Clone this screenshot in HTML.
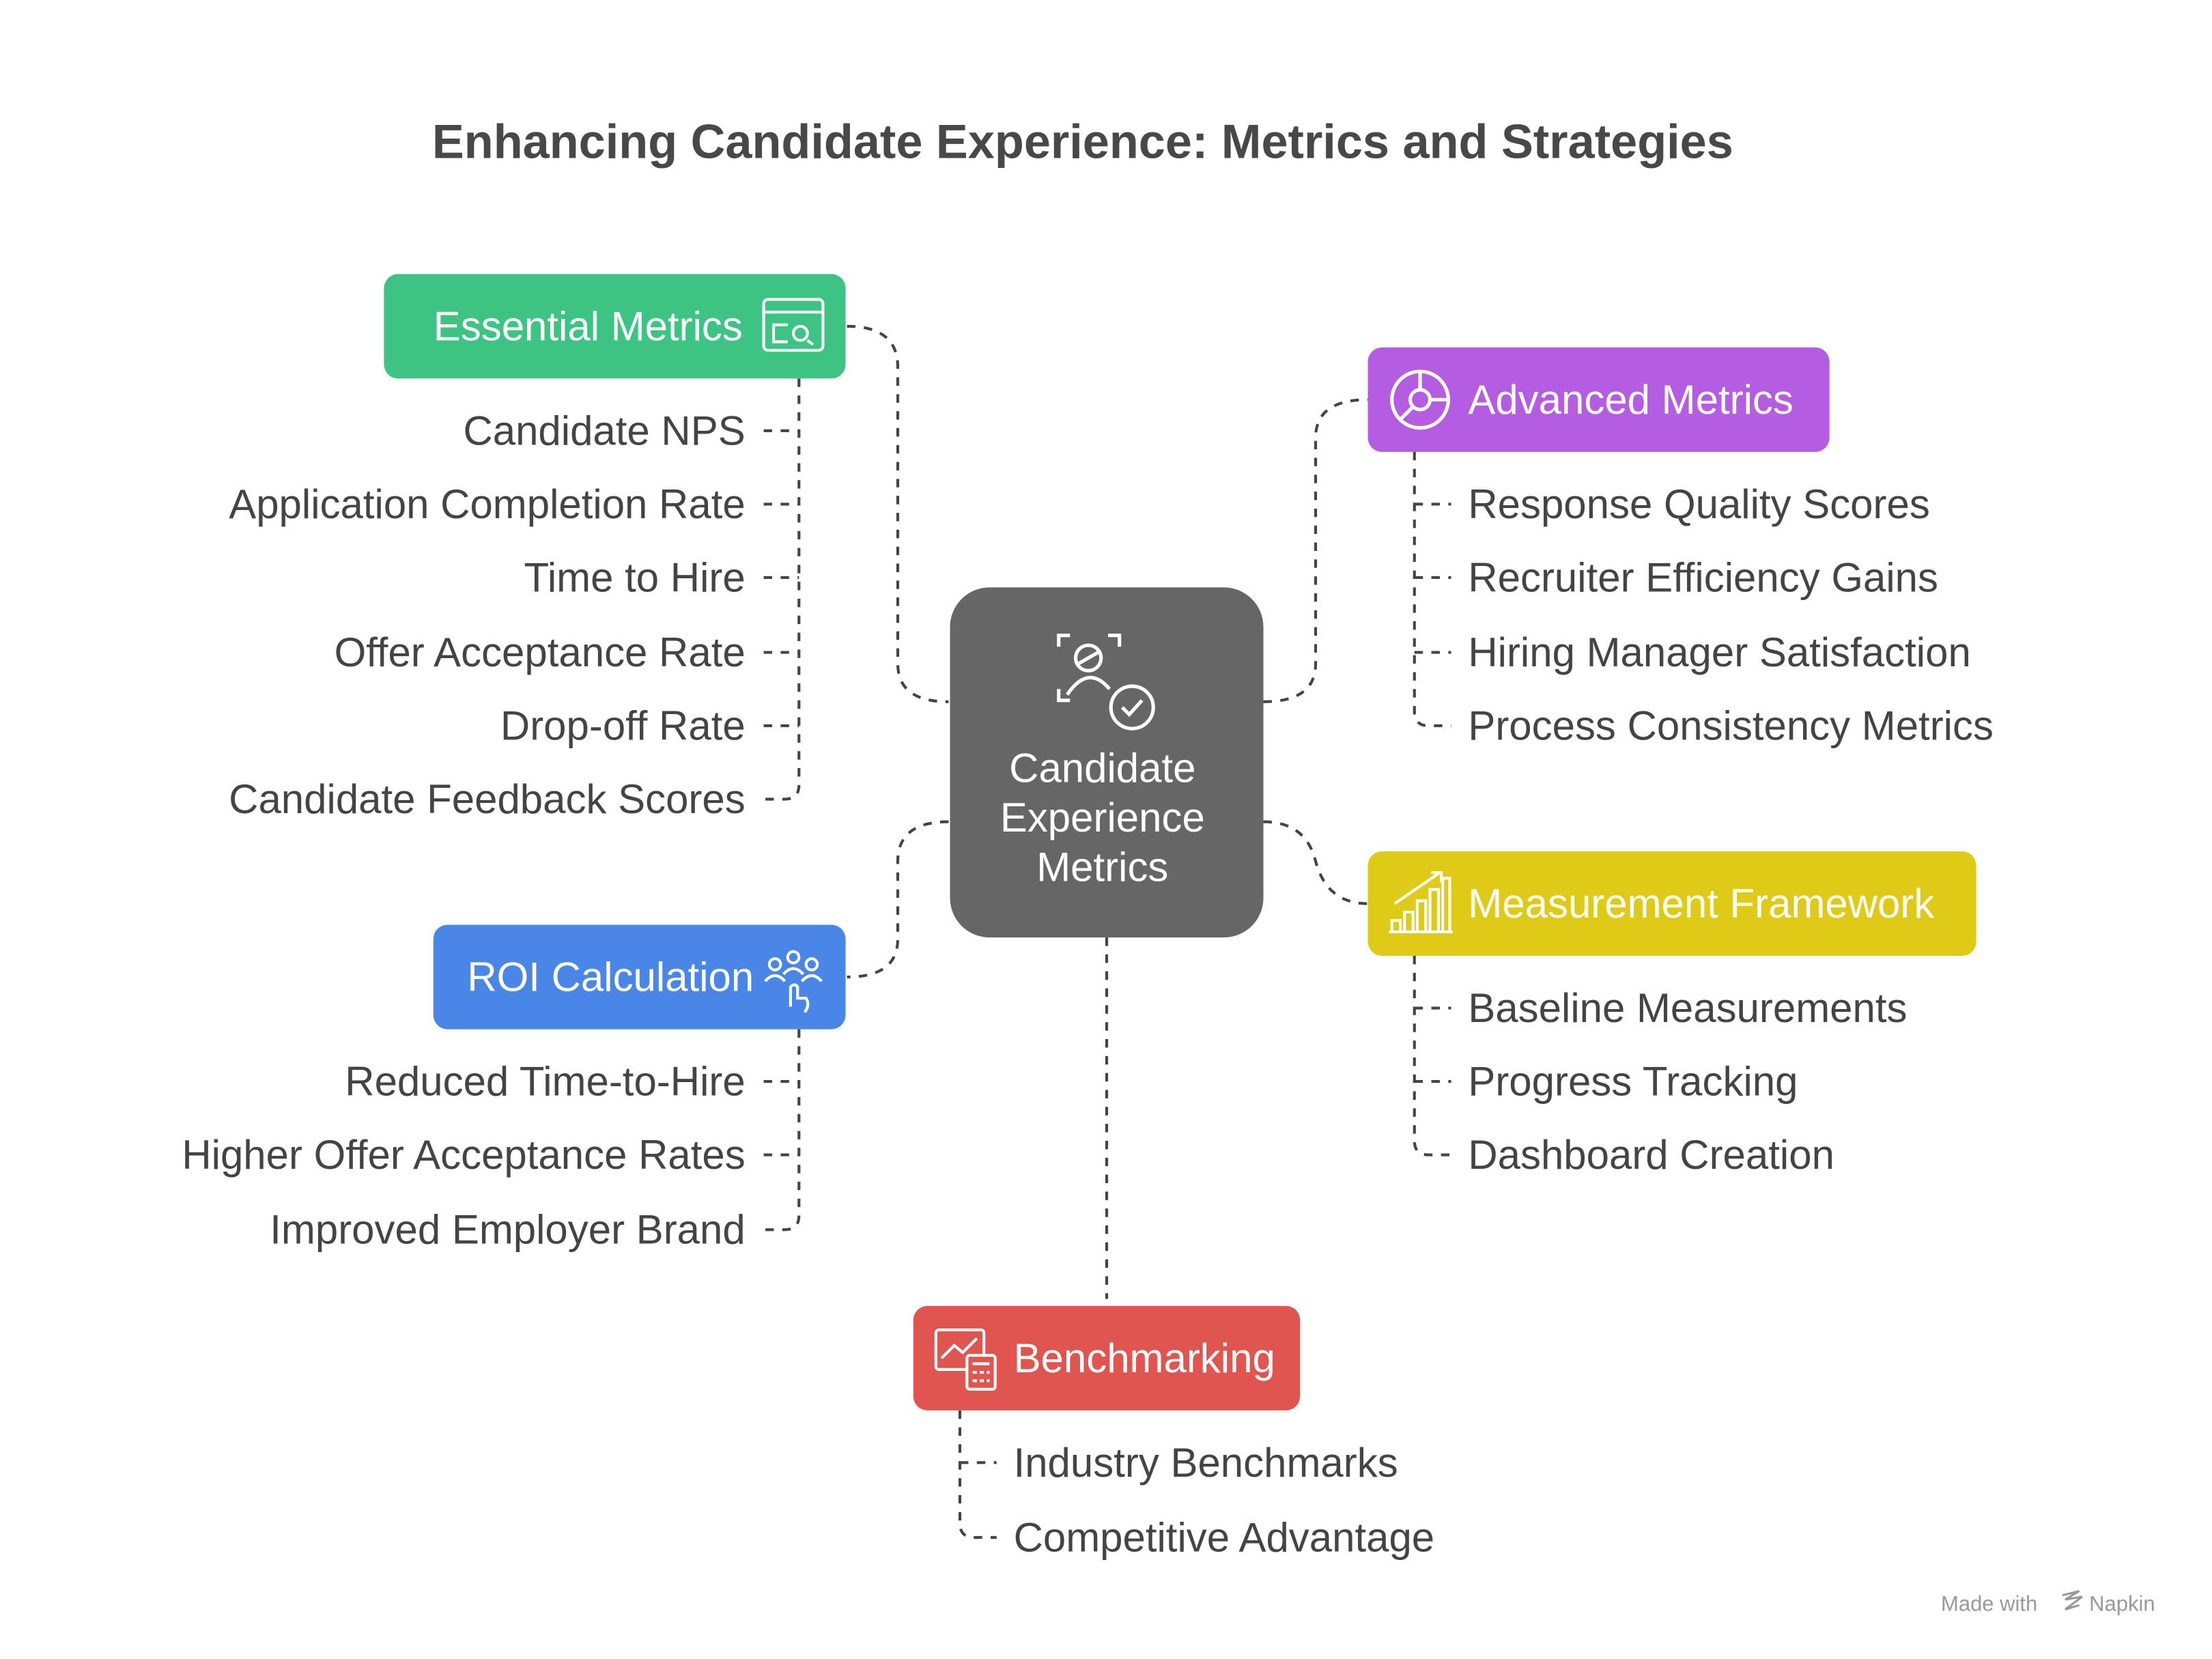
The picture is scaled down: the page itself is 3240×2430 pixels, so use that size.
<!DOCTYPE html>
<html><head><meta charset="utf-8"><style>
html,body{margin:0;padding:0;background:#fff;}
svg{display:block;}
text{font-family:"Liberation Sans",sans-serif;}
</style></head><body>
<svg width="3240" height="2430" viewBox="0 0 1567 1175" xmlns="http://www.w3.org/2000/svg">
<rect width="1567" height="1175" fill="#fff"/>
<text x="767" y="100" text-anchor="middle" dominant-baseline="central" font-size="34" font-weight="bold" fill="#484848">Enhancing Candidate Experience: Metrics and Strategies</text>

<g fill="none" stroke="#444" stroke-width="2" stroke-dasharray="6 6">
<path d="M600 231 Q636 231 636 260 L636 470 Q636 497 672 497"/>
<path d="M895 497 Q932 497 932 470 L932 310 Q932 283 969 283"/>
<path d="M895 582 Q925 582 932 610 Q940 640 969 640"/>
<path d="M672 582 Q636 582 636 610 L636 665 Q636 692 600 692"/>
<path d="M784 664 L784 920"/>
<path d="M566 268 L566 556 Q566 566 556 566 L541 566"/>
<path d="M541 305 L566 305 M541 357 L566 357 M541 409 L566 409 M541 462 L566 462 M541 514 L566 514"/>
<path d="M1002 320 L1002 504 Q1002 514 1012 514 L1028 514"/>
<path d="M1002 357 L1028 357 M1002 409 L1028 409 M1002 462 L1028 462"/>
<path d="M1002 677 L1002 808 Q1002 818 1012 818 L1028 818"/>
<path d="M1002 714 L1028 714 M1002 766 L1028 766"/>
<path d="M566 729 L566 861 Q566 871 556 871 L541 871"/>
<path d="M541 766 L566 766 M541 818 L566 818"/>
<path d="M680 999 L680 1079 Q680 1089 690 1089 L706 1089"/>
<path d="M680 1036 L706 1036"/>
</g>

<rect x="272" y="194" width="327" height="74" rx="10" fill="#3dc482"/>
<text x="307" y="231" dominant-baseline="central" font-size="29" fill="#fff">Essential Metrics</text>
<g fill="none" stroke="#fff" stroke-width="2"><rect x="541" y="212" width="42" height="36" rx="3"/><line x1="541" y1="221" x2="583" y2="221"/><path d="M558 230 h-10 v12 h10 M562 236 a5 5 0 1 0 10 0 a5 5 0 1 0 -10 0 M572 241 l4 3"/></g>

<rect x="969" y="246" width="327" height="74" rx="10" fill="#b45de3"/>
<text x="1040" y="283" dominant-baseline="central" font-size="29" fill="#fff">Advanced Metrics</text>
<g fill="none" stroke="#fff" stroke-width="2.5"><circle cx="1006" cy="283" r="20"/><circle cx="1006" cy="283" r="7"/><path d="M1013 283 H1026 M1001 288 L992 297 M1006 276 V263"/></g>

<rect x="969" y="603" width="431" height="74" rx="10" fill="#dfcb17"/>
<text x="1040" y="640" dominant-baseline="central" font-size="29" fill="#fff">Measurement Framework</text>
<g fill="none" stroke="#fff" stroke-width="2"><path d="M986 660 V652 H992 V660 M995 660 V646 H1001 V660 M1004 660 V638 H1010 V660 M1013 660 V630 H1019 V660 M1022 660 V622 H1027 V660 M984 660 H1029 M988 640 L1020 618 M1014 618 H1021 V625"/></g>

<rect x="307" y="655" width="292" height="74" rx="10" fill="#4a86e8"/>
<text x="331" y="692" dominant-baseline="central" font-size="29" fill="#fff">ROI Calculation</text>
<g fill="none" stroke="#fff" stroke-width="2"><circle cx="549" cy="683" r="4"/><circle cx="562" cy="678" r="4"/><circle cx="575" cy="683" r="4"/><path d="M542 695 q7 -8 14 0 M555 690 q7 -8 14 0 M568 695 q7 -8 14 0 M560 713 v-14 q3 -3 5 0 v8 h6 q3 5 -1 10"/></g>

<rect x="647" y="925" width="274" height="74" rx="10" fill="#e05550"/>
<text x="718" y="962" dominant-baseline="central" font-size="29" fill="#fff">Benchmarking</text>
<g fill="none" stroke="#fff" stroke-width="2"><rect x="663" y="942" width="34" height="28" rx="2"/><path d="M667 962 L676 953 L682 958 L692 948"/><rect x="685" y="960" width="20" height="24" rx="2" fill="#e05550"/><path d="M689 966 h12 M689 972 h3 M694 972 h3 M699 972 h2 M689 978 h3 M694 978 h3 M699 978 h2"/></g>

<rect x="673" y="416" width="222" height="248" rx="28" fill="#666"/>
<g fill="none" stroke="#fff" stroke-width="2.5"><path d="M750 458 V450 H758 M785 450 H793 V458 M750 488 V496 H758"/><circle cx="771" cy="466" r="9"/><path d="M764 470 L778 462 M756 492 q15 -22 30 -4"/><circle cx="802" cy="501" r="15"/><path d="M795 501 l5 5 l9 -10"/></g>
<text x="781" y="544" text-anchor="middle" dominant-baseline="central" font-size="29" fill="#fff">Candidate</text>
<text x="781" y="579" text-anchor="middle" dominant-baseline="central" font-size="29" fill="#fff">Experience</text>
<text x="781" y="614" text-anchor="middle" dominant-baseline="central" font-size="29" fill="#fff">Metrics</text>

<g font-size="29" fill="#444" dominant-baseline="central">
<g text-anchor="end">
<text x="528" y="305">Candidate NPS</text>
<text x="528" y="357">Application Completion Rate</text>
<text x="528" y="409">Time to Hire</text>
<text x="528" y="462">Offer Acceptance Rate</text>
<text x="528" y="514">Drop-off Rate</text>
<text x="528" y="566">Candidate Feedback Scores</text>
<text x="528" y="766">Reduced Time-to-Hire</text>
<text x="528" y="818">Higher Offer Acceptance Rates</text>
<text x="528" y="871">Improved Employer Brand</text>
</g>
<text x="1040" y="357">Response Quality Scores</text>
<text x="1040" y="409">Recruiter Efficiency Gains</text>
<text x="1040" y="462">Hiring Manager Satisfaction</text>
<text x="1040" y="514">Process Consistency Metrics</text>
<text x="1040" y="714">Baseline Measurements</text>
<text x="1040" y="766">Progress Tracking</text>
<text x="1040" y="818">Dashboard Creation</text>
<text x="718" y="1036">Industry Benchmarks</text>
<text x="718" y="1089">Competitive Advantage</text>
</g>
<text x="1375" y="1136" dominant-baseline="central" font-size="15" fill="#999">Made with</text>
<path d="M1461 1130 l12 -3 l-10 6 l12 -2 l-12 9 l10 -3" fill="none" stroke="#999" stroke-width="1.5"/>
<text x="1480" y="1136" dominant-baseline="central" font-size="15" fill="#999">Napkin</text>
</svg>
</body></html>
